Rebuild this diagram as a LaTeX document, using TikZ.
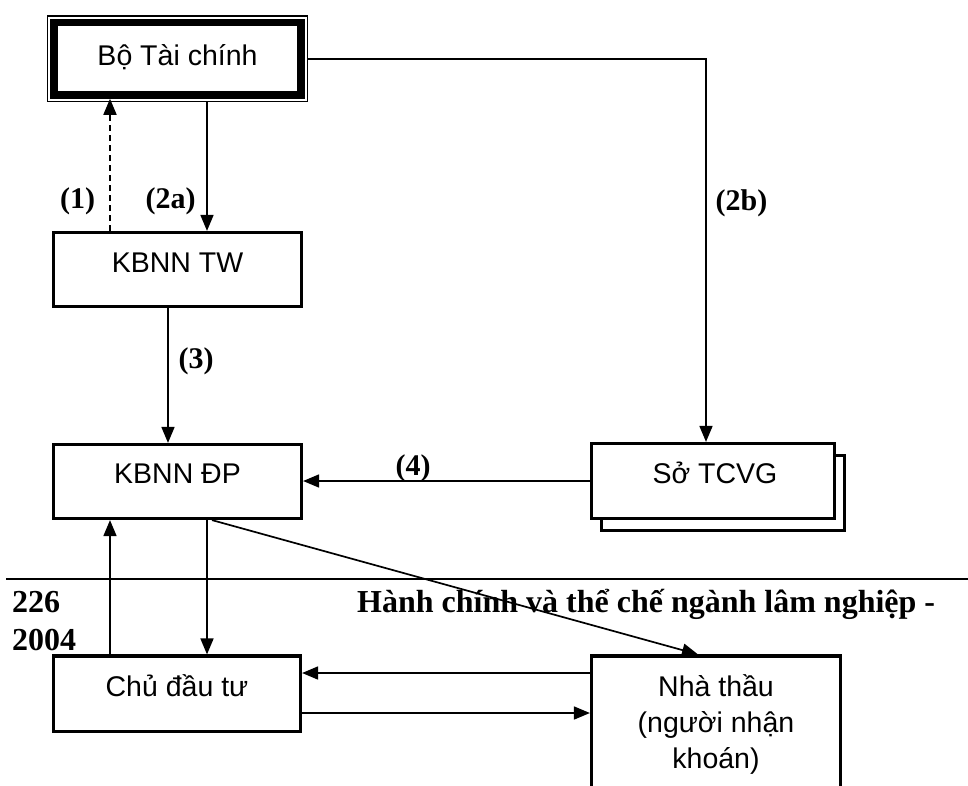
\documentclass[tikz,border=0pt]{standalone}
\usepackage{fontspec}
\usetikzlibrary{arrows.meta,fit}
\newfontfamily\boxfont{Liberation Sans}
\newfontfamily\labfont{Liberation Serif}
\tikzset{
  box/.style={draw, line width=3.2pt, fill=white, inner sep=0pt, font=\boxfont\fontsize{28.5}{34}\selectfont},
  txt/.style={inner sep=0pt, anchor=base, font=\boxfont\fontsize{28.5}{34}\selectfont},
  arr/.style={-{Triangle[length=16pt,width=13pt]}, line width=1.7pt},
  lab/.style={inner sep=0pt, anchor=base, font=\labfont\bfseries\fontsize{30}{36}\selectfont},
  foot/.style={inner sep=0pt, anchor=base west, font=\labfont\bfseries\fontsize{32}{38}\selectfont},
}
\begin{document}
\begin{tikzpicture}[x=1pt,y=-1pt]
\useasboundingbox (0,0) rectangle (968,785);
\clip (0,0) rectangle (968,785);
\fill[white] (0,0) rectangle (968,785);
% guide coordinates
\coordinate (xa) at (110,0);
\coordinate (xb) at (207,0);
\coordinate (xc) at (168,0);
\coordinate (xd) at (212,0);
\coordinate (xe) at (698,0);
\coordinate (xf) at (706,0);
\coordinate (ya) at (0,673);
\coordinate (yb) at (0,713);
\coordinate (ruleL) at (6,579);
\coordinate (ruleR) at (968,579);

% boxes
\node[box, line width=7.5pt, minimum width=247pt, minimum height=72.5pt, text height=42.5pt, text depth=30pt] (btc) at (177.5,58.75) {Bộ Tài chính};
\node[draw, line width=1.3pt, inner sep=2.8pt, fit=(btc)] (btcO) {};
\node[box, minimum width=248pt, minimum height=74pt, text height=39.5pt, text depth=34.5pt] (tw) at (177.5,269.5) {KBNN TW};
\node[box, minimum width=248pt, minimum height=74pt, text height=38.5pt, text depth=35.5pt] (dp) at (177.5,481.5) {KBNN ĐP};
\node[box, minimum width=243pt, minimum height=75pt] (tcvgs) at (723,493) {};
\node[box, minimum width=243pt, minimum height=75pt, text height=39.5pt, text depth=35.5pt] (tcvg) at (713,481) {\hspace*{4pt}Sở TCVG};
\node[box, minimum width=247pt, minimum height=75.5pt, text height=40.5pt, text depth=35pt] (cdt) at (177,693.75) {Chủ đầu tư};
\node[box, minimum width=249pt, minimum height=174pt] (nt) at (716,743) {};
\node[txt] (nt1) at (716,696) {Nhà thầu};
\node[txt] (nt2) at (716,732) {(người nhận};
\node[txt] (nt3) at (716,768) {khoán)};

% footer
\draw[line width=2.5pt] (ruleL) -- (ruleR);
\node[foot] (f226) at (12,612) {226};
\node[foot] (f2004) at (12,650) {2004};
\node[foot] (ftitle) at (357,612) {Hành chính và thể chế ngành lâm nghiệp -};

% labels
\node[lab] (l1) at (77.5,208) {(1)};
\node[lab] (l2a) at (170.5,208) {(2a)};
\node[lab] (l2b) at (741.5,210) {(2b)};
\node[lab] (l3) at (196,368) {(3)};
\node[lab] (l4) at (413,475) {(4)};

% connectors
\draw[arr] (btcO.east) -| (xf |- tcvg.north);
\draw[arr] (xb |- btcO.south) -- (xb |- tw.north);
\draw[arr, dashed, dash pattern=on 6pt off 4pt] (xa |- tw.north) -- (xa |- btc.south);
\draw[arr] (xc |- tw.south) -- (xc |- dp.north);
\draw[arr] (tcvg.west) -- (tcvg.west -| dp.east);
\draw[arr] (xb |- dp.south) -- (xb |- cdt.north);
\draw[arr] (xa |- cdt.north) -- (xa |- dp.south);
\draw[arr] (xd |- dp.south) -- (xe |- nt.north);
\draw[arr] (nt.west |- ya) -- (cdt.east |- ya);
\draw[arr] (cdt.east |- yb) -- (nt.west |- yb);
\end{tikzpicture}
\end{document}
